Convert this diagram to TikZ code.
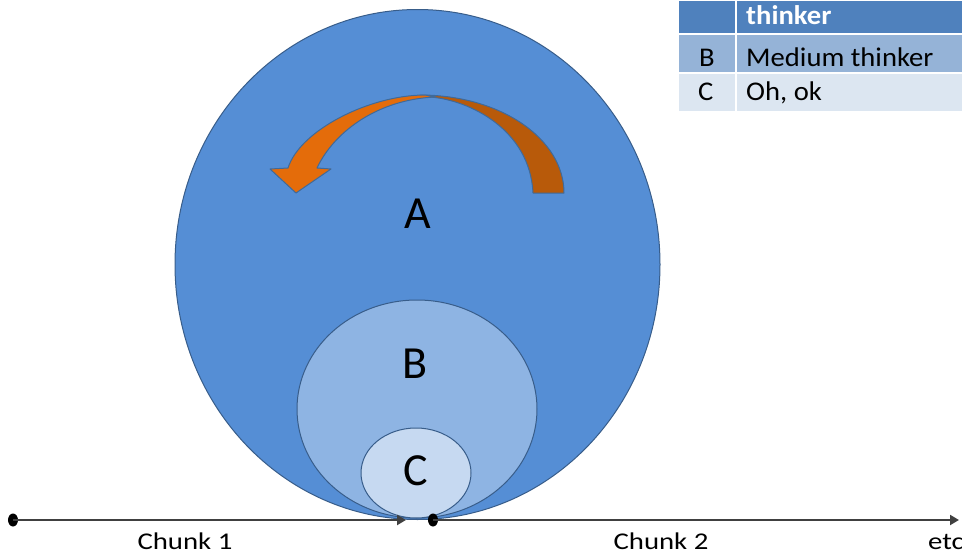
\documentclass[tikz,border=0pt]{standalone}
\usepackage{fontspec}
\setmainfont{Carlito}
\newfontfamily\fChunk[FakeStretch=1.2]{Carlito}
\newfontfamily\fTab[FakeStretch=1.06]{Carlito}
\usetikzlibrary{shapes.geometric,arrows.meta}
\definecolor{aFill}{HTML}{558ED5}
\definecolor{bFill}{HTML}{8EB4E3}
\definecolor{cFill}{HTML}{C6D9F1}
\definecolor{ring}{HTML}{385D8A}
\definecolor{orL}{HTML}{E46C0A}
\definecolor{orR}{HTML}{B85A0A}
\definecolor{arOut}{HTML}{3F6A9A}
\definecolor{hdr}{HTML}{4F81BD}
\definecolor{rowB}{HTML}{95B3D7}
\definecolor{rowC}{HTML}{DCE6F1}
\definecolor{axis}{HTML}{404040}
\tikzset{
  blob/.style={ellipse, draw=ring, line width=1pt, inner sep=0pt},
  letter/.style={anchor=base, inner sep=0pt, font=\fontsize{46}{50}\selectfont},
  orange/.style={draw=arOut, line width=1pt, line join=round},
  cell/.style={rectangle, draw=white, line width=2pt, inner sep=0pt, anchor=north west},
  tabtext/.style={anchor=base west, inner sep=0pt, font=\fTab\fontsize{27}{30}\selectfont},
  dot/.style={ellipse, fill=black, inner sep=0pt, minimum width=10pt, minimum height=13pt},
  axisline/.style={draw=axis, line width=2pt, -{Triangle[length=9pt,width=10pt]}},
  chunk/.style={anchor=base, inner sep=0pt, font=\fChunk\fontsize{24}{28}\selectfont}
}
\begin{document}
\begin{tikzpicture}[x=1pt,y=-1pt]
\useasboundingbox (0,0) rectangle (962,554);
% nested circles
\node[blob, fill=aFill, minimum width=485pt, minimum height=510pt] (A) at (417.5,264.5) {};
\node[blob, fill=bFill, minimum width=240pt, minimum height=218pt] (B) at (417,409) {};
\node[blob, fill=cFill, minimum width=110pt, minimum height=90pt] (C) at (416,473) {};
\node[letter] (la) at (418,228) {A};
\node[letter] (lb) at (415,378) {B};
\node[letter] (lc) at (416,485) {C};
% curved arrow
\draw[orange, fill=orR] (420,95) .. controls (501,95) and (564,139) .. (564,193)
  -- (533,193) .. controls (530,130) and (470,100) .. (430,97) -- cycle;
\draw[orange, fill=orL] (425,95) .. controls (370,95) and (300,130) .. (288,168)
  -- (270,169) -- (296,193) -- (331,169) -- (317,168)
  .. controls (335,130) and (380,99) .. (436,97) -- cycle;
% timeline
\node[dot] (d1) at (13,520) {};
\node[dot] (d2) at (433,520) {};
\coordinate (e1) at (406,520);
\coordinate (e2) at (959,520);
\draw[axisline] (d1.center) -- (e1);
\draw[axisline] (d2.center) -- (e2);
\node[chunk] (c1) at (185,549) {Chunk 1};
\node[chunk] (c2) at (661,549) {Chunk 2};
\node[chunk, anchor=base west] (c3) at (928,549) {etc};
% table
\node[cell, fill=hdr, minimum width=58pt, minimum height=34pt] (t11) at (677,-1) {};
\node[cell, fill=hdr, minimum width=240pt, minimum height=34pt] (t12) at (735,-1) {};
\node[cell, fill=rowB, minimum width=58pt, minimum height=39pt] (t21) at (677,33) {};
\node[cell, fill=rowB, minimum width=240pt, minimum height=39pt] (t22) at (735,33) {};
\node[cell, fill=rowC, minimum width=58pt, minimum height=39pt] (t31) at (677,72) {};
\node[cell, fill=rowC, minimum width=240pt, minimum height=39pt] (t32) at (735,72) {};
\node[tabtext, text=white, font=\fTab\bfseries\fontsize{27}{30}\selectfont] (h2) at (746,24) {thinker};
\node[tabtext] (b1) at (699,66) {B};
\node[tabtext] (b2) at (746,66) {Medium thinker};
\node[tabtext] (cc1) at (698,100) {C};
\node[tabtext] (cc2) at (746,100) {Oh, ok};
\end{tikzpicture}
\end{document}
